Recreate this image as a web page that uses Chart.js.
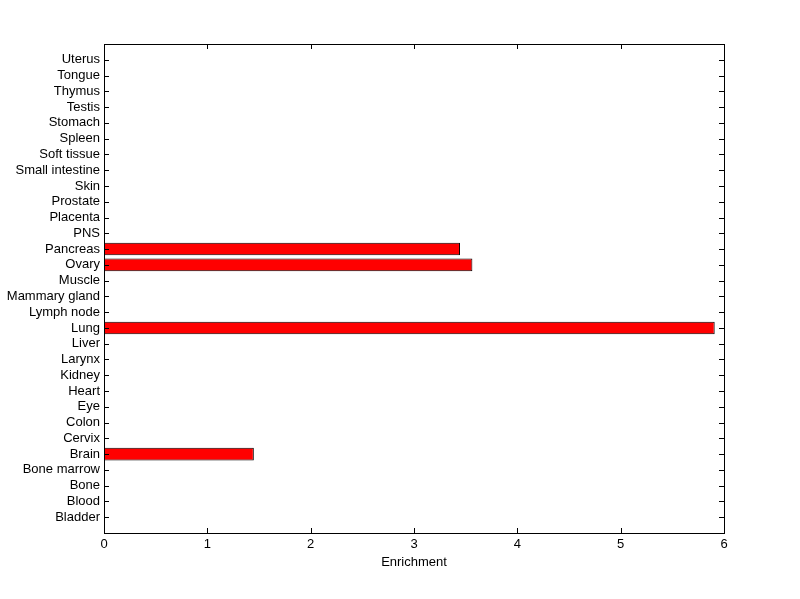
<!DOCTYPE html>
<html>
<head>
<meta charset="utf-8">
<script src="https://cdn.jsdelivr.net/npm/chart.js@4/dist/chart.umd.min.js"></script>
<style>
    html, body { margin: 0; padding: 0; background: #fff; }
    #wrap { width: 800px; height: 599px; }
</style>
</head>
<body>
<div id="wrap"><canvas id="enrichChart"></canvas></div>
<script>
// tissues, bottom to top
const tejidos = ['Bladder', 'Blood', 'Bone', 'Bone marrow', 'Brain', 'Cervix', 'Colon', 'Eye', 'Heart',
    'Kidney', 'Larynx', 'Liver', 'Lung', 'Lymph node', 'Mammary gland', 'Muscle', 'Ovary', 'Pancreas',
    'PNS', 'Placenta', 'Prostate', 'Skin', 'Small intestine', 'Soft tissue', 'Spleen', 'Stomach',
    'Testis', 'Thymus', 'Tongue', 'Uterus'];
const enriquecimiento = [0, 0, 0, 0, 1.45, 0, 0, 0, 0,
    0, 0, 0, 5.91, 0, 0, 0, 3.565, 3.445,
    0, 0, 0, 0, 0, 0, 0, 0,
    0, 0, 0, 0];
const xTicks = [0, 1, 2, 3, 4, 5, 6];

const fuente = { family: 'Liberation Sans, Arial, sans-serif', size: 13 };

// MATLAB style: ticks pointing inward on all four sides
const tickInside = {
    id: 'tickInside',
    afterDraw(chart) {
        const ctx = chart.ctx;
        const a = chart.chartArea;
        const len = 5;
        ctx.save();
        ctx.strokeStyle = '#000';
        ctx.lineWidth = 1;
        ctx.beginPath();
        chart.scales.y.ticks.forEach(t => {
            const py = Math.round(chart.scales.y.getPixelForValue(t.value)) + 0.5;
            ctx.moveTo(a.left, py); ctx.lineTo(a.left + len, py);
            ctx.moveTo(a.right, py); ctx.lineTo(a.right - len, py);
        });
        chart.scales.x.ticks.forEach(t => {
            const px = Math.round(chart.scales.x.getPixelForValue(t.value)) + 0.5;
            ctx.moveTo(px, a.bottom); ctx.lineTo(px, a.bottom - len);
            ctx.moveTo(px, a.top); ctx.lineTo(px, a.top + len);
        });
        ctx.stroke();
        ctx.strokeRect(a.left + 0.5, a.top + 0.5, a.right - a.left, a.bottom - a.top);
        ctx.restore();
    }
};

const datos = enriquecimiento.map((v, i) => ({ x: v, y: i + 1 }));

new Chart(document.getElementById('enrichChart'), {
    type: 'bar',
    data: {
        datasets: [{
            label: 'Enrichment',
            data: datos,
            backgroundColor: '#ff0000',
            borderColor: '#000000',
            borderWidth: ctx => (ctx.raw && ctx.raw.x > 0 ? 1 : 0),
            borderSkipped: false,
            barPercentage: 0.8,
            categoryPercentage: 1
        }]
    },
    options: {
        indexAxis: 'y',
        responsive: true,
        maintainAspectRatio: false,
        animation: false,
        layout: { padding: { top: 44, right: 76, left: 0, bottom: 29 } },
        plugins: {
            legend: { display: false },
            tooltip: { enabled: false }
        },
        scales: {
            x: {
                type: 'linear',
                min: 0,
                max: 6,
                afterBuildTicks: s => { s.ticks = xTicks.map(v => ({ value: v })); },
                grid: { display: false, drawTicks: false },
                border: { display: false },
                ticks: { color: '#000', font: fuente, padding: 4, maxRotation: 0 },
                title: { display: true, text: 'Enrichment', color: '#000', font: fuente, padding: { top: 3, bottom: 0 } },
                afterFit: s => { s.height = 37; }
            },
            y: {
                type: 'linear',
                offset: false,
                min: 0,
                max: tejidos.length + 1,
                afterBuildTicks: s => { s.ticks = tejidos.map((t, i) => ({ value: i + 1 })); },
                grid: { display: false, drawTicks: false },
                border: { display: false },
                ticks: {
                    color: '#000',
                    font: fuente,
                    padding: 4,
                    autoSkip: false,
                    callback: v => tejidos[v - 1] || ''
                },
                afterFit: s => { s.width = 104; }
            }
        }
    },
    plugins: [tickInside]
});
</script>
</body>
</html>
